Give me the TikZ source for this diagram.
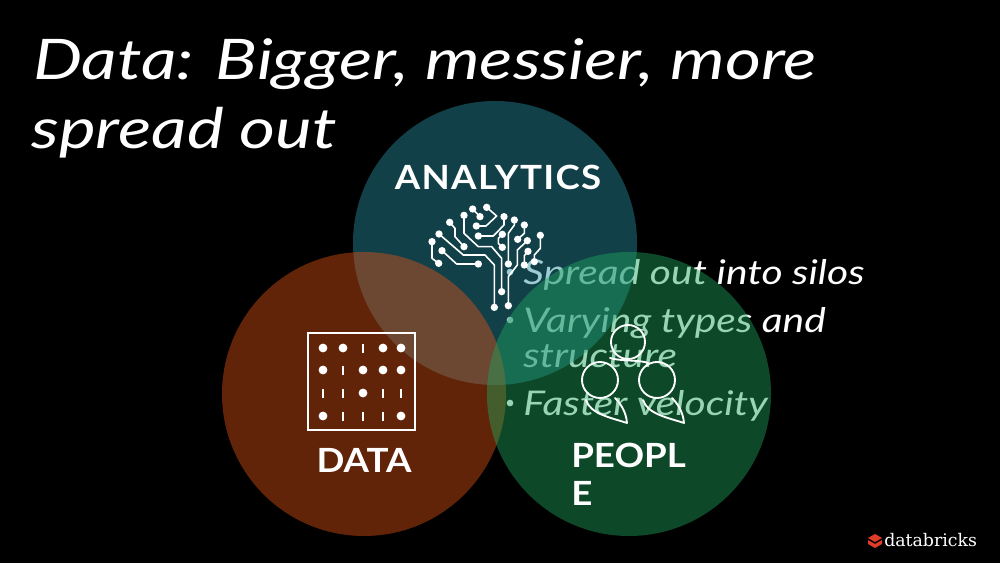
\documentclass[tikz,border=0pt]{standalone}
\usepackage{fontspec}
\setmainfont{Lato}
\newfontfamily\handt[ItalicFont=Lato Italic,ItalicFeatures={FakeStretch=1.24}]{Lato}
\newfontfamily\handb[ItalicFont=Lato Italic,ItalicFeatures={FakeStretch=1.2}]{Lato}
\newfontfamily\caps[BoldFont=Lato Bold,BoldFeatures={FakeStretch=1.1}]{Lato}
\newfontfamily\capw[BoldFont=Lato Bold,BoldFeatures={FakeStretch=1.1,LetterSpace=4}]{Lato}
\newfontfamily\logo{DejaVu Serif}
\definecolor{anac}{RGB}{40,142,162}
\definecolor{datc}{RGB}{218,80,22}
\definecolor{peoc}{RGB}{31,164,91}
\definecolor{logored}{RGB}{225,60,40}
\tikzset{
 px/.style={x=0.75pt,y=-0.75pt},
 vennc/.style={opacity=0.45},
 titletext/.style={text=white,anchor=base west,inner sep=0pt,font=\handt\itshape\fontsize{42}{42}\selectfont},
 bullettext/.style={text=white,anchor=base west,inner sep=0pt,font=\handb\itshape\fontsize{25.5}{25.5}\selectfont},
 bulletdot/.style={circle,fill=white,inner sep=0pt,minimum size=5pt},
 captext/.style={text=white,inner sep=0pt,font=\caps\bfseries\fontsize{25}{25}\selectfont},
 ico/.style={draw=white,line width=1.4pt,line join=round,line cap=round},
 brainwire/.style={draw=white,line width=1.2pt,line join=round},
}
\newcommand{\wire}[1]{\draw[brainwire] #1;}
\begin{document}
\begin{tikzpicture}[px]
\useasboundingbox (0,0) rectangle (1000,563);
\fill[black] (0,0) rectangle (1000,563);
% title
\node[titletext] (t1) at (33,80) {Data: Bigger, messier, more};
\node[titletext] (t2) at (31,149) {spread out};
% bullets (under the translucent circles)
\node[bulletdot] (b1) at (510,272) {};
\node[bulletdot] (b2) at (510,320) {};
\node[bulletdot] (b3) at (510,403) {};
\node[bullettext] (s1) at (523,284) {Spread out into silos};
\node[bullettext] (s2) at (523,332) {Varying types and};
\node[bullettext] (s3) at (523,367) {structure};
\node[bullettext] (s4) at (523,415) {Faster velocity};
% circles
\fill[anac,vennc] (495,243) circle (142);
\fill[datc,vennc] (364,394) circle (142);
\fill[peoc,vennc] (629,394) circle (142);
% captions
\node[captext,font=\capw\bfseries\fontsize{25}{25}\selectfont] (ca) at (498,177) {ANALYTICS};
\node[captext] (cd) at (364,460) {DATA};
\node[captext,anchor=base west] (cp1) at (571,467) {PEOPL};
\node[captext,anchor=base west] (cp2) at (571,505) {E};
% brain icon
\begin{scope}[shift={(400,190)},x=0.25pt,y=-0.25pt]
\foreach \p in {(96,155),(116,220),(117,132),(283,352),(126,182),(235,222),(149,97),(192,170),(192,76),(305,305),(218,57),(240,80),(260,52),(229,108),(312,80),(235,138),(343,90),(325,222),(373,105),(353,148),(307,133),(307,172),(382,152),(325,347),(421,136),(403,215),(384,184),(373,225)}
  \fill[white] \p circle (11);
\wire{(96,155)--(96,205)--(116,220)}
\wire{(117,132)--(190,195)--(255,195)--(283,225)--(283,352)}
\wire{(126,182)--(170,222)--(235,222)}
\wire{(149,97)--(165,115)--(165,140)--(192,170)}
\wire{(192,76)--(192,130)--(235,170)--(275,170)--(305,205)--(305,305)}
\wire{(218,57)--(240,80)}
\wire{(260,52)--(290,78)--(258,108)--(229,108)}
\wire{(312,80)--(312,105)--(280,138)--(235,138)}
\wire{(343,90)--(343,105)--(325,130)--(325,222)}
\wire{(373,105)--(373,130)--(353,148)}
\wire{(307,133)--(295,145)--(295,160)--(307,172)}
\wire{(382,152)--(352,180)--(352,225)--(325,260)--(325,347)}
\wire{(421,136)--(421,175)--(403,195)--(403,215)}
\wire{(384,184)--(373,197)--(373,225)}
\end{scope}
% data grid icon
\draw[draw=white,line width=1.3pt] (308,333) rectangle (415,430);
\foreach \x/\y in {323/348,343/348,383/348,401/348,323/370,363/370,383/370,401/370,363/393,323/416,401/416}
  \fill[white] (\x,\y) circle (4.4);
\foreach \x/\y in {363/348,343/370,323/393,343/393,383/393,401/393,343/416,363/416,383/416}
  \draw[white,line width=1.1pt] (\x,\y-4.5) -- (\x,\y+4.5);
% people icon
\draw[ico] (628,342) circle (17);
\draw[ico] (600,380) circle (18);
\draw[ico] (657,380) circle (18);
\draw[ico] (610,358) .. controls (618,361) and (642,360) .. (648,363);
\draw[ico] (586,400) .. controls (590,414) and (612,418) .. (627,423) .. controls (626,411) and (620,403) .. (615,398);
\draw[ico] (643,400) .. controls (647,414) and (669,418) .. (684,423) .. controls (683,411) and (677,403) .. (672,398);
% logo
\fill[logored] (868,538) -- (875,534) -- (882,538) -- (875,542) -- cycle;
\fill[logored] (868,540) -- (875,544) -- (882,540) -- (882,544) -- (875,548) -- (868,544) -- cycle;
\node[text=white,anchor=base west,inner sep=0pt,font=\logo\fontsize{13}{13}\selectfont] (lg) at (884,546) {databricks};
\end{tikzpicture}
\end{document}
